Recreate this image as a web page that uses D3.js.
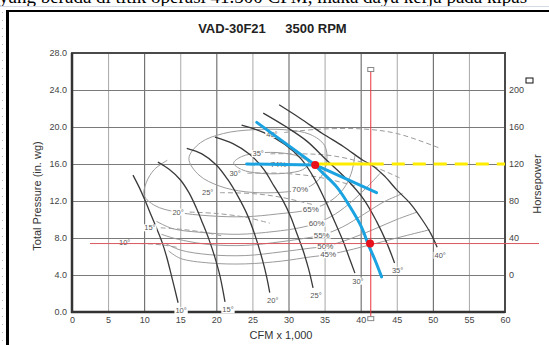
<!DOCTYPE html>
<html>
<head>
<meta charset="utf-8">
<script src="https://cdnjs.cloudflare.com/ajax/libs/d3/7.8.5/d3.min.js"></script>
<style>
  body { margin: 0; background: #fff; }
  svg { display: block; font-family: Arial, "Liberation Sans", sans-serif; }
</style>
</head>
<body>
<svg id="chart" width="549" height="345"></svg>
<script>
// ---- data (CFM in thousands, pressure in in. wg) ----
const cfmTicks = d3.range(0, 61, 5);
const pressureTicks = d3.range(0, 29, 4);
const hpTicks = d3.range(0, 201, 40);

const bladeAngles = ["10°", "15°", "20°", "25°", "30°", "35°", "40°"];
const bladeCurves = [
  [[8.45,14.8],[9.3,13.5],[10.1,12.1],[11.0,10.4],[11.8,8.9],[12.5,7.5],[13.1,6.0],[13.6,4.5],[14.2,2.6],[14.7,1.0]],
  [[11.9,16.2],[13.5,15.4],[15.0,14.3],[16.2,12.9],[17.2,11.3],[18.1,9.6],[19.0,7.8],[19.8,5.9],[20.5,3.9],[21.2,1.1]],
  [[15.9,17.7],[18.0,17.1],[20.0,15.9],[21.6,14.3],[23.0,12.5],[24.3,10.5],[25.4,8.2],[26.4,5.6],[27.0,3.7],[27.4,2.1]],
  [[19.8,18.9],[22.3,18.2],[24.7,17.0],[26.6,15.4],[28.0,13.6],[29.2,12.1],[30.3,10.3],[31.2,8.4],[32.0,6.7],[32.8,4.6],[33.4,2.6]],
  [[23.5,20.2],[26.6,19.4],[29.5,18.1],[31.8,16.5],[33.6,14.4],[35.0,12.2],[36.5,9.6],[37.6,7.6],[38.4,5.9],[39.2,4.2]],
  [[26.5,21.5],[29.5,20.1],[32.5,18.5],[35.3,16.4],[38.0,14.4],[40.4,12.2],[42.2,9.8],[43.6,7.5],[44.7,5.3]],
  [[28.7,22.4],[31.7,20.9],[34.7,19.3],[37.6,17.9],[40.3,16.4],[41.5,15.9],[43.3,14.7],[45.0,13.2],[46.8,11.8],[48.5,10.0],[49.7,8.5],[50.6,7.0]]
];

// horsepower curves (dashed), given on the pressure grid, one per blade angle
const hpLabelPts = [[7.3,7.46],[10.8,9.1],[14.7,10.8],[18.8,12.9],[22.6,15.0],[25.8,17.1],[27.7,19.2]];
const hpCurves = [
  [[9.4,7.4],[11.0,7.35],[13.0,7.2],[14.5,7.0]],
  [[12.3,9.1],[15.0,8.95],[18.0,8.65],[21.0,8.2]],
  [[16.3,10.8],[20.0,10.65],[24.0,10.25],[27.4,9.6]],
  [[20.5,12.9],[25.0,12.8],[29.0,12.4],[33.4,11.6]],
  [[24.3,15.0],[29.0,15.0],[34.0,14.6],[39.4,13.6]],
  [[27.5,17.1],[32.0,17.1],[36.0,16.9],[40.5,16.1],[45.4,14.5]],
  [[29.4,19.4],[34.0,19.75],[40.0,19.8],[45.0,19.3],[51.0,17.7]]
];

// efficiency contours
const effLevels = ["74%", "70%", "65%", "60%", "55%", "50%", "45%"];
const effClosed = [true, true, false, false, false, false, false];
const effLabelPts = [[28.6,15.9],[31.6,13.2],[33.1,11.1],[33.9,9.6],[34.6,8.3],[35.1,7.1],[35.5,6.2]];
const effContours = [
  [[22.4,16.1],[23.5,16.8],[26.0,17.2],[29.0,17.2],[31.5,16.8],[32.8,16.1],[32.0,15.4],[29.5,15.0],[26.0,15.0],[23.5,15.4]],
  [[16.2,16.6],[17.8,18.3],[21.0,19.3],[25.0,19.7],[29.5,19.7],[33.0,19.2],[35.0,18.0],[35.3,16.3],[34.5,14.6],[33.0,13.6],[31.6,13.2],[28.0,12.9],[24.0,13.0],[20.5,13.6],[17.6,14.8]],
  [[13.2,16.4],[11.4,15.4],[10.3,14.0],[10.0,12.6],[11.5,11.5],[14.5,10.8],[19.0,10.4],[24.0,10.3],[28.5,10.6],[33.1,11.1],[35.8,12.0],[37.6,13.3],[38.7,15.0],[39.2,16.9]],
  [[11.7,9.8],[14.0,9.0],[18.0,8.6],[23.0,8.4],[28.0,8.7],[31.5,9.1],[33.9,9.6],[36.5,10.6],[39.0,12.1],[41.0,13.6],[42.7,15.0]],
  [[12.4,8.4],[14.5,7.9],[19.0,7.3],[24.0,7.2],[29.0,7.6],[32.5,8.0],[34.6,8.3],[37.5,9.2],[40.5,10.6],[43.2,11.9],[45.8,12.8]],
  [[13.0,7.4],[15.0,6.7],[19.0,6.2],[24.0,6.1],[29.0,6.5],[33.0,6.9],[35.1,7.1],[38.5,7.9],[42.0,9.0],[45.0,10.0],[47.8,10.8]],
  [[13.4,6.6],[15.0,5.8],[19.0,5.3],[24.0,5.2],[29.0,5.5],[33.0,5.95],[35.5,6.2],[39.0,6.8],[43.0,7.6],[46.5,8.3],[49.6,8.9]]
];

// selection lines drawn on the chart
const systemFlat = [[24.2,16.0],[33.7,15.9]];
const systemUpper = [[25.6,20.5],[33.7,15.9]];
const systemLower = [[33.7,15.9],[34.4,15.3],[36.7,13.5],[38.5,11.4],[40.1,9.2],[41.1,7.2],[42.0,5.6],[42.9,3.8]];
const systemBranch = [[33.7,15.9],[42.2,12.9]];
const operatingCfm = 41.4;
const operatingPressure = 16.0;
const operatingHp = 34;
const redDots = [[33.7,15.9],[41.3,7.4]];

// ---- layout ----
const svg = d3.select("#chart");
const x = d3.scaleLinear().domain([0, 60]).range([72, 505]);
const y = d3.scaleLinear().domain([0, 28]).range([312, 53]);
const yHp = d3.scaleLinear().domain([0, 200]).range([y(4), y(24)]);
const line = d3.line().x(d => x(d[0])).y(d => y(d[1]));
const smooth = d3.line().x(d => x(d[0])).y(d => y(d[1])).curve(d3.curveCatmullRom.alpha(0.5));
const smoothClosed = d3.line().x(d => x(d[0])).y(d => y(d[1])).curve(d3.curveCatmullRomClosed.alpha(0.5));

// page bits around the scanned chart (the line above is cut by the scan)
svg.append("text")
  .attr("x", -1).attr("y", 3)
  .style("font-family", "'Liberation Serif', 'Times New Roman', serif")
  .style("font-size", "19px")
  .text("yang berada di titik operasi 41.500 CFM, maka daya kerja pada kipas");
svg.append("line").attr("x1", 0).attr("x2", 549).attr("y1", 6.5).attr("y2", 6.5)
  .attr("stroke", "#d4dae4").attr("stroke-width", 1);
svg.append("line").attr("x1", 6).attr("x2", 549).attr("y1", 11).attr("y2", 11)
  .attr("stroke", "#000").attr("stroke-width", 2);
svg.append("line").attr("x1", 7.5).attr("x2", 7.5).attr("y1", 10).attr("y2", 345)
  .attr("stroke", "#000").attr("stroke-width", 3);
svg.append("line").attr("x1", 2.5).attr("x2", 2.5).attr("y1", 12).attr("y2", 345)
  .attr("stroke", "#bbb").attr("stroke-width", 1).attr("stroke-dasharray", "1,7");

// grid
const grid = svg.append("g");
grid.append("g")
  .attr("transform", `translate(0,${y(0)})`)
  .call(d3.axisBottom(x).tickValues(cfmTicks.slice(1, -1)).tickSize(-(y(0) - y(28))).tickFormat(""))
  .call(g => g.select(".domain").remove())
  .call(g => g.selectAll("line").attr("stroke", d => d % 10 === 0 ? "#5a5a5a" : "#a8a8a8").attr("stroke-width", 1));
grid.append("g")
  .attr("transform", `translate(${x(0)},0)`)
  .call(d3.axisLeft(y).tickValues(pressureTicks.slice(1, -1)).tickSize(-(x(60) - x(0))).tickFormat(""))
  .call(g => g.select(".domain").remove())
  .call(g => g.selectAll("line").attr("stroke", "#7a7a7a").attr("stroke-width", 1));

// efficiency contours
const eff = svg.append("g").attr("fill", "none").attr("stroke", "#9b9b9b").attr("stroke-width", 1);
effContours.forEach((c, i) => {
  eff.append("path").attr("d", effClosed[i] ? smoothClosed(c) : smooth(c));
});

// horsepower curves
const hp = svg.append("g").attr("fill", "none").attr("stroke", "#9b9b9b")
  .attr("stroke-width", 1).attr("stroke-dasharray", "5,3");
hpCurves.forEach(c => hp.append("path").attr("d", smooth(c)));

// blade angle curves
const blades = svg.append("g").attr("fill", "none").attr("stroke", "#3a3a3a").attr("stroke-width", 1.3);
bladeCurves.forEach(c => blades.append("path").attr("d", smooth(c)));

// frame
svg.append("rect")
  .attr("x", x(0)).attr("y", y(28))
  .attr("width", x(60) - x(0)).attr("height", y(0) - y(28))
  .attr("fill", "none").attr("stroke", "#4a4a4a").attr("stroke-width", 2);
svg.append("path")
  .attr("d", `M${x(0)},${y(28)}V${y(0)}H${x(60)}`)
  .attr("fill", "none").attr("stroke", "#333").attr("stroke-width", 2.5);

// labels with a white box behind
function boxedLabel(px, py, txt, size, color) {
  const g = svg.append("g");
  const t = g.append("text")
    .attr("x", px).attr("y", py)
    .attr("text-anchor", "middle").attr("dominant-baseline", "central")
    .style("font-size", size + "px").attr("fill", color)
    .text(txt);
  const b = t.node().getBBox();
  g.insert("rect", "text")
    .attr("x", b.x - 1).attr("y", b.y + 1).attr("width", b.width + 2).attr("height", b.height - 2)
    .attr("fill", "#fff");
}
bladeCurves.forEach((c, i) => {
  const end = c[c.length - 1];
  boxedLabel(x(end[0]) + 3, Math.min(y(end[1]) + 8, y(0)), bladeAngles[i], 7.5, "#555");
});
hpLabelPts.forEach((p, i) => boxedLabel(x(p[0]), y(p[1]), bladeAngles[i], 7.5, "#555"));
effLabelPts.forEach((p, i) => boxedLabel(x(p[0]), y(p[1]), effLevels[i], 8, "#555"));

// tick labels
const tickStyle = g => g.call(s => s.select(".domain").remove())
  .call(s => s.selectAll("text").attr("fill", "#444").style("font-size", "9px").style("font-family", "Arial, 'Liberation Sans', sans-serif"));
svg.append("g").attr("transform", `translate(${x(0)},0)`)
  .call(d3.axisLeft(y).tickValues(pressureTicks).tickSize(0).tickPadding(5).tickFormat(d3.format(".1f")))
  .call(tickStyle);
svg.append("g").attr("transform", `translate(0,${y(0)})`)
  .call(d3.axisBottom(x).tickValues(cfmTicks).tickSize(0).tickPadding(5).tickFormat(d3.format("d")))
  .call(tickStyle);
svg.append("g").attr("transform", `translate(${x(60)},0)`)
  .call(d3.axisRight(yHp).tickValues(hpTicks).tickSize(0).tickPadding(4).tickFormat(d3.format("d")))
  .call(tickStyle);

// titles
svg.append("text").attr("x", 232).attr("y", 33).attr("text-anchor", "middle")
  .style("font-size", "13px").style("font-weight", "bold").attr("fill", "#222").text("VAD-30F21");
svg.append("text").attr("x", 316).attr("y", 33).attr("text-anchor", "middle")
  .style("font-size", "13px").style("font-weight", "bold").attr("fill", "#222").text("3500 RPM");
svg.append("text").attr("transform", "translate(41,196) rotate(-90)").attr("text-anchor", "middle")
  .style("font-size", "11px").attr("fill", "#333").text("Total Pressure (in. wg)");
svg.append("text").attr("transform", "translate(541,184) rotate(-90)").attr("text-anchor", "middle")
  .style("font-size", "11px").attr("fill", "#333").text("Horsepower");
svg.append("text").attr("x", 281).attr("y", 339).attr("text-anchor", "middle")
  .style("font-size", "11px").attr("fill", "#333").text("CFM x 1,000");

// selection lines
svg.append("line")
  .attr("x1", x(operatingCfm)).attr("x2", x(operatingCfm)).attr("y1", y(26)).attr("y2", y(-0.5))
  .attr("stroke", "#e8333a").attr("stroke-width", 1);
svg.append("line")
  .attr("x1", x(2.5)).attr("x2", 539).attr("y1", yHp(operatingHp)).attr("y2", yHp(operatingHp))
  .attr("stroke", "#d9575c").attr("stroke-width", 1);

const blue = svg.append("g").attr("fill", "none").attr("stroke", "#1aa3e0").attr("stroke-width", 3).attr("stroke-linecap", "round");
blue.append("path").attr("d", line(systemFlat));
blue.append("path").attr("d", line(systemUpper));
blue.append("path").attr("d", smooth(systemLower));
blue.append("path").attr("d", line(systemBranch));

svg.append("line")
  .attr("x1", x(redDots[0][0])).attr("x2", x(operatingCfm)).attr("y1", y(operatingPressure)).attr("y2", y(operatingPressure))
  .attr("stroke", "#ffec00").attr("stroke-width", 3);
svg.append("line")
  .attr("x1", x(operatingCfm)).attr("x2", x(60)).attr("y1", y(operatingPressure)).attr("y2", y(operatingPressure))
  .attr("stroke", "#ffec00").attr("stroke-width", 3).attr("stroke-dasharray", "13,8");

svg.selectAll(".dot").data(redDots).join("circle")
  .attr("class", "dot")
  .attr("cx", d => x(d[0])).attr("cy", d => y(d[1])).attr("r", 4)
  .attr("fill", "#e8101a");

// small handle boxes
const handles = [[x(operatingCfm) - 3, y(26) - 4, 6, 4], [x(operatingCfm) - 3, y(-0.5), 6, 4], [526, 78, 7, 5]];
svg.selectAll(".handle").data(handles).join("rect")
  .attr("class", "handle")
  .attr("x", d => d[0]).attr("y", d => d[1]).attr("width", d => d[2]).attr("height", d => d[3])
  .attr("fill", "#fff").attr("stroke", (d, i) => i === 2 ? "#111" : "#888").attr("stroke-width", 1);
</script>
</body>
</html>
